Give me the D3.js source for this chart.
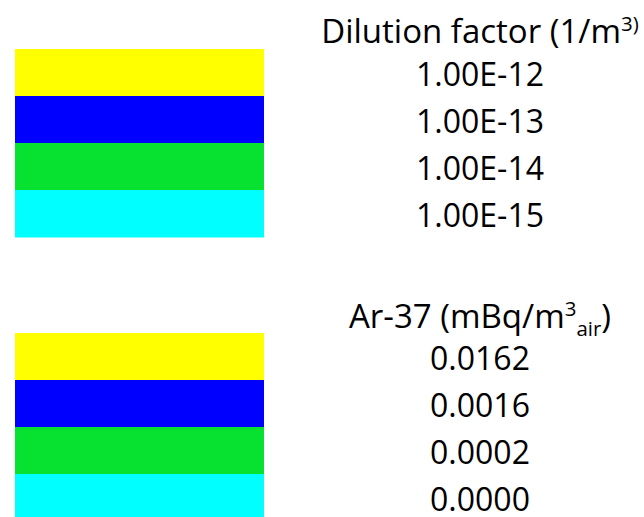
<!DOCTYPE html>
<html><head><meta charset="utf-8">
<script src="https://cdn.jsdelivr.net/npm/d3@7"></script>
<style>html,body{margin:0;padding:0;background:#fff;overflow:hidden}</style>
</head><body>
<script>
const dilutionLabels = ["1.00E-12","1.00E-13","1.00E-14","1.00E-15"];
const ar37Labels = ["0.0162","0.0016","0.0002","0.0000"];
const bandColors = ["#ffff00","#0000ff","#06e22f","#00ffff"];

const W = 644, H = 517;
const svg = d3.select("body").append("svg").attr("width", W).attr("height", H);
const font = "'Open Sans', sans-serif";
const fs = 32, tfs = 33;
const xBand = d3.scaleLinear().domain([0,1]).range([15,264]);
const textX = 480;

function block(labels, y0, y1, titleBaseline, titleFn) {
  const y = d3.scaleBand().domain(labels).range([y0, y1]).padding(0);
  const g = svg.append("g");
  g.selectAll("rect").data(labels).join("rect")
    .attr("x", xBand(0)).attr("width", xBand(1) - xBand(0))
    .attr("y", d => y(d)).attr("height", y.bandwidth() + 0.5)
    .attr("fill", (d,i) => bandColors[i]);
  g.selectAll("text.lab").data(labels).join("text").attr("class","lab")
    .attr("x", textX).attr("y", d => y(d) + y.bandwidth()/2 + 13)
    .attr("text-anchor","middle").attr("font-family", font).attr("font-size", fs)
    .attr("fill","#000").text(d => d);
  const t = g.append("text").attr("x", textX).attr("y", titleBaseline)
    .attr("text-anchor","middle").attr("font-family", font).attr("font-size", tfs).attr("fill","#000");
  titleFn(t);
}

block(dilutionLabels, 49, 237, 43, t => {
  t.append("tspan").text("Dilution factor (1/m");
  t.append("tspan").attr("font-size", tfs*0.62).attr("dy", -12).text("3)");
});
block(ar37Labels, 333, 521, 328, t => {
  t.append("tspan").text("Ar-37 (mBq/m");
  t.append("tspan").attr("font-size", tfs*0.62).attr("dy", -12).text("3");
  t.append("tspan").attr("font-size", tfs*0.62).attr("dy", 20).text("air");
  t.append("tspan").attr("dy", -8).text(")");
});
</script>
</body></html>
